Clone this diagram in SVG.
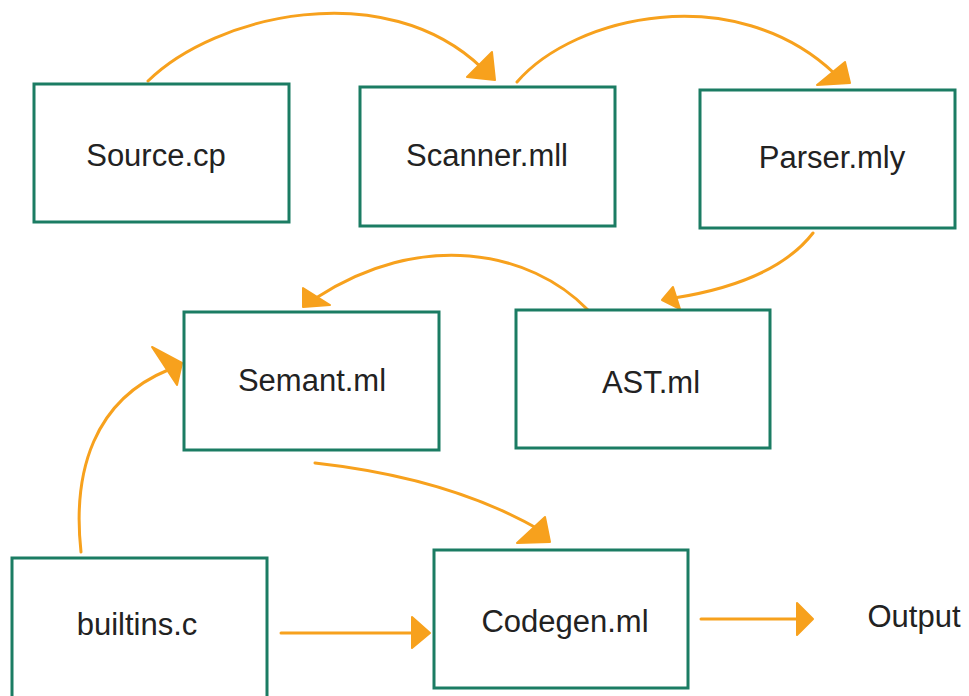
<svg xmlns="http://www.w3.org/2000/svg" width="969" height="696" viewBox="0 0 969 696">
<style>
.box{fill:#ffffff;stroke:#1b7c63;stroke-width:3}
.lbl{font-family:"Liberation Sans",Arial,Helvetica,sans-serif;font-size:31px;fill:#222222;text-anchor:middle}
.ln{fill:none;stroke:#f7a11d;stroke-width:3;stroke-linecap:round}
.hd{fill:#f7a11d;stroke:#f7a11d;stroke-width:2;stroke-linejoin:round}
</style>
<rect width="969" height="696" fill="#ffffff"/>
<g id="connectors">
<path class="ln" d="M148,81 C215,15 385,-25 482,68"/>
<polygon class="hd" points="467,77 492,52 495,80"/>
<path class="ln" d="M517,82 C575,15 735,-20 834,73"/>
<polygon class="hd" points="817,85 845,62 850,83"/>
<path class="ln" d="M813,233 Q775,282 674,298"/>
<polygon class="hd" points="662,300 673,287 680,309"/>
<path class="ln" d="M588,310 C530,250 420,230 316,298"/>
<polygon class="hd" points="303,288 303,307 330,305"/>
<path class="ln" d="M81,552 C72,470 95,400 168,370"/>
<polygon class="hd" points="152,347 182,363 177,385"/>
<path class="ln" d="M315,463 Q450,478 540,530"/>
<polygon class="hd" points="517,543 545,517 550,542"/>
<path class="ln" d="M281,633 L414,633"/>
<polygon class="hd" points="412,617 430,633 412,648"/>
<path class="ln" d="M701,619 L798,619"/>
<polygon class="hd" points="797,603 813,619 797,635"/>
</g>
<g id="source"><rect class="box" x="34" y="84" width="255" height="138"/><text class="lbl" x="156" y="166">Source.cp</text></g>
<g id="scanner"><rect class="box" x="360" y="87" width="255" height="139"/><text class="lbl" x="487" y="166">Scanner.mll</text></g>
<g id="parser"><rect class="box" x="700" y="90" width="255" height="138"/><text class="lbl" x="832" y="168">Parser.mly</text></g>
<g id="semant"><rect class="box" x="184" y="312" width="255" height="138"/><text class="lbl" x="312" y="391">Semant.ml</text></g>
<g id="ast"><rect class="box" x="516" y="310" width="254" height="138"/><text class="lbl" x="651" y="393">AST.ml</text></g>
<g id="builtins"><rect class="box" x="12" y="558" width="255" height="140"/><text class="lbl" x="137" y="635">builtins.c</text></g>
<g id="codegen"><rect class="box" x="434" y="550" width="254" height="138"/><text class="lbl" x="565" y="632">Codegen.ml</text></g>
<g id="output"><text class="lbl" x="914" y="627">Output</text></g>
</svg>
